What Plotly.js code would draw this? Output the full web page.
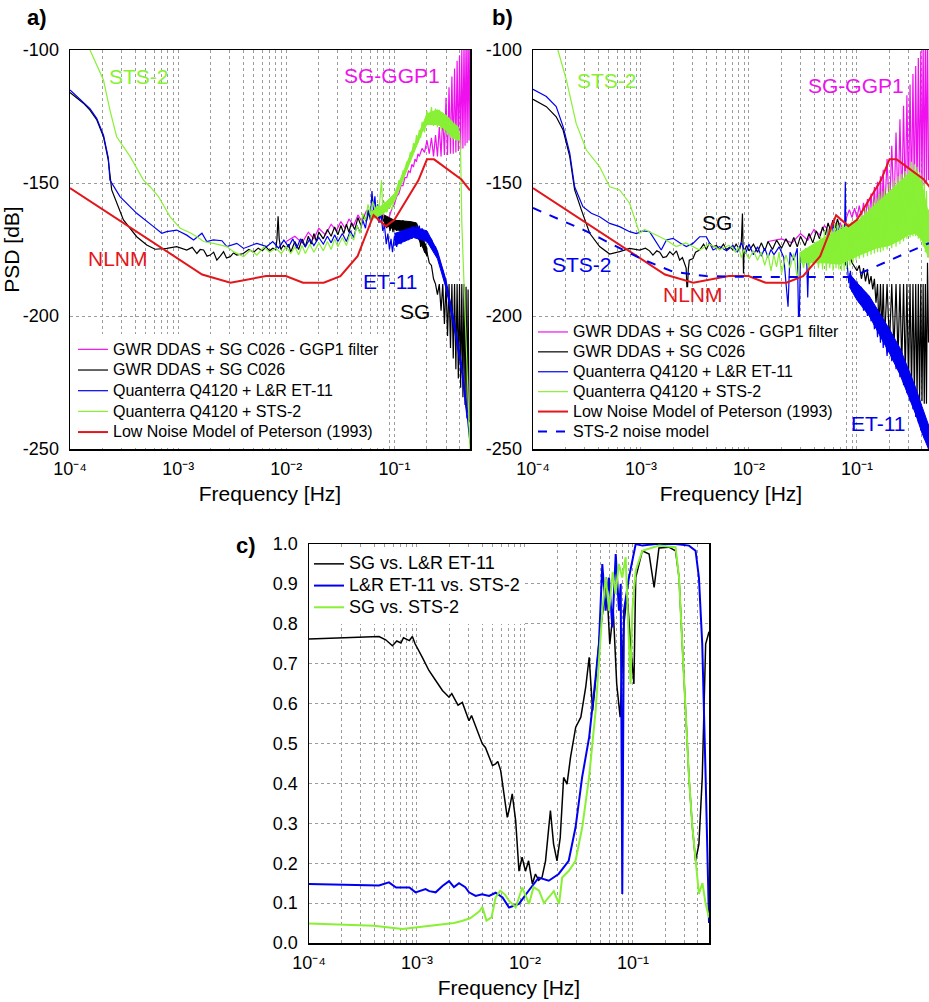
<!DOCTYPE html>
<html><head><meta charset="utf-8">
<script src="https://cdn.plot.ly/plotly-3.0.1.min.js"></script>
<style>html,body{margin:0;padding:0;background:#fff}#chart{width:929px;height:1002px}</style>
</head><body><div id="chart"></div>
<script>
// ---------------- DATA ----------------
// Frequencies in Hz, values in dB (panels a,b) or coherence (panel c)
const nlnm = [[1e-4,-151.9],[1.667e-3,-184.4],[3.049e-3,-187.5],[6.494e-3,-185.0],[9.901e-3,-185.0],[1.429e-2,-187.5],[2.222e-2,-187.5],[3.165e-2,-185.0],[4.566e-2,-177.5],[6.41e-2,-162.1],[8.333e-2,-166.2],[0.1,-163.8],[0.1667,-149.0],[0.2,-141.1],[0.2326,-141.1],[0.4167,-148.7],[0.5,-152.8]];

const aSG = [[1e-4,-116],[1.33e-4,-120],[1.53e-4,-122.6],[1.77e-4,-126.3],[2.04e-4,-132.6],[2.26e-4,-141.4],[2.43e-4,-152.6],[2.7e-4,-157.5],[3.12e-4,-163.9],[4.14e-4,-170.2],[5.13e-4,-173.3],[6.12e-4,-174.9],[7.85e-4,-174.6],[9.7e-4,-173.9],[1.2e-3,-175.2],[1.35e-3,-174.2],[1.49e-3,-176.5],[1.6e-3,-175],[1.72e-3,-175.2],[1.85e-3,-177.5],[1.98e-3,-177.1],[2.13e-3,-176],[2.28e-3,-179],[2.45e-3,-177.5],[2.63e-3,-175.8],[2.8e-3,-178.2],[3.03e-3,-177.7],[3.25e-3,-176.3],[3.49e-3,-177.1],[4e-3,-176.5],[4.5e-3,-175],[5e-3,-176],[5.5e-3,-174.5],[6e-3,-175.5],[6.5e-3,-174],[7e-3,-175.5],[7.5e-3,-174.5],[8e-3,-175],[8.2e-3,-171],[8.4e-3,-162.5],[8.6e-3,-171],[8.9e-3,-175],[9.4e-3,-173.5],[1e-2,-174.5],[1.05e-2,-173],[1.1e-2,-176],[1.2e-2,-172],[1.3e-2,-175],[1.4e-2,-171],[1.5e-2,-174],[1.6e-2,-170],[1.7e-2,-173],[1.8e-2,-169],[1.9e-2,-172],[2e-2,-168.5],[2.2e-2,-171],[2.4e-2,-167.5],[2.6e-2,-170],[2.8e-2,-166.5],[3e-2,-169.5],[3.2e-2,-166],[3.4e-2,-169],[3.6e-2,-165.5],[3.8e-2,-168.5],[4e-2,-165],[4.3e-2,-167.5],[4.6e-2,-163],[4.9e-2,-166],[5.2e-2,-162],[5.5e-2,-164.5],[5.8e-2,-161],[6.1e-2,-163.5],[6.4e-2,-160],[6.7e-2,-163],[7e-2,-160.5],[7.3e-2,-163.5],[7.6e-2,-161],[7.9e-2,-164.5],[8.2e-2,-163],[8.5e-2,-167],[8.8e-2,-164.5],[9.1e-2,-168],[9.4e-2,-165],[9.7e-2,-168.5],[0.1,-164.5],[0.105,-168],[0.11,-164],[0.115,-167.5],[0.12,-164],[0.125,-168],[0.13,-165],[0.135,-169],[0.14,-165],[0.145,-169],[0.15,-165],[0.155,-170],[0.16,-166],[0.165,-171],[0.17,-169],[0.175,-174],[0.18,-172],[0.19,-176],[0.2,-176],[0.21,-180],[0.22,-181],[0.23,-186],[0.24,-188],[0.25,-192],[0.26,-188],[0.27,-198],[0.28,-188],[0.29,-203],[0.3,-188],[0.31,-207.5],[0.32,-188],[0.33,-212],[0.34,-188],[0.35,-216],[0.36,-188],[0.37,-220],[0.38,-188],[0.39,-223.5],[0.4,-188],[0.41,-227],[0.42,-188],[0.43,-230.5],[0.44,-188],[0.45,-233.5],[0.46,-189],[0.47,-236.5],[0.48,-190],[0.49,-239],[0.5,-240]];
const aSGBandUp = [[0.08,-162],[0.1,-164],[0.14,-164.5],[0.16,-165],[0.2,-174.5]];
const aSGBandLo = [[0.08,-165.5],[0.1,-167.5],[0.14,-168.5],[0.16,-169.5],[0.2,-177.5]];

const aET = [[1e-4,-115],[1.33e-4,-119.5],[1.53e-4,-122],[1.77e-4,-125.8],[2.04e-4,-132],[2.26e-4,-140.5],[2.34e-4,-148.9],[2.9e-4,-155.1],[4.14e-4,-161.4],[5.92e-4,-166.4],[7.06e-4,-168.9],[7.85e-4,-168.3],[9.7e-4,-167.7],[1.2e-3,-169.6],[1.39e-3,-171.4],[1.66e-3,-168.9],[1.84e-3,-172],[2.12e-3,-171.4],[2.54e-3,-171.7],[2.82e-3,-173.9],[3.49e-3,-172.7],[4.03e-3,-174.6],[5.35e-3,-172.7],[6.6e-3,-173.9],[7.5e-3,-172],[8.5e-3,-174.5],[9.5e-3,-171.5],[1.05e-2,-174],[1.15e-2,-171],[1.25e-2,-174.5],[1.35e-2,-171],[1.5e-2,-174],[1.65e-2,-171],[1.8e-2,-173.5],[2e-2,-170.5],[2.2e-2,-173],[2.4e-2,-170],[2.6e-2,-172.5],[2.8e-2,-169.5],[3e-2,-172],[3.3e-2,-169],[3.6e-2,-172],[3.9e-2,-168],[4.2e-2,-170.5],[4.5e-2,-166],[4.8e-2,-168.5],[5.1e-2,-164],[5.4e-2,-167],[5.7e-2,-160],[6e-2,-164],[6.2e-2,-153],[6.4e-2,-160],[6.6e-2,-155],[6.8e-2,-162],[7e-2,-158],[7.2e-2,-165],[7.5e-2,-161],[7.8e-2,-168],[8.1e-2,-166],[8.4e-2,-173],[8.7e-2,-169],[9e-2,-175],[9.3e-2,-171],[9.6e-2,-176],[0.1,-170],[0.105,-174],[0.11,-169],[0.115,-173],[0.12,-168],[0.125,-172],[0.13,-167.5],[0.135,-171.5],[0.14,-167],[0.145,-171],[0.15,-166.5],[0.155,-170.5],[0.16,-166],[0.165,-170],[0.17,-166],[0.175,-170.5],[0.18,-167],[0.19,-171],[0.2,-168.5],[0.21,-172],[0.22,-171],[0.23,-174],[0.24,-174],[0.25,-177],[0.26,-179],[0.28,-183],[0.3,-188],[0.33,-196],[0.36,-204],[0.39,-211],[0.42,-220],[0.45,-229],[0.47,-237],[0.49,-245],[0.5,-248]];
const aETBandUp = [[0.1,-169],[0.15,-166.5],[0.2,-168],[0.25,-175.5],[0.3,-186.5],[0.36,-202.5],[0.42,-218.5],[0.47,-235.5]];
const aETBandLo = [[0.1,-173.5],[0.15,-170.5],[0.2,-172],[0.25,-178.5],[0.3,-189.5],[0.36,-205.5],[0.42,-221.5],[0.47,-238.5]];

const aSTS = [[1e-4,-86],[1.53e-4,-100],[2.04e-4,-111.3],[2.34e-4,-122.6],[2.7e-4,-132.6],[3.6e-4,-140.1],[4.78e-4,-148.9],[5.5e-4,-151.4],[6.58e-4,-155.1],[8.43e-4,-162.7],[1.045e-3,-167],[1.29e-3,-168.7],[1.49e-3,-170.2],[1.72e-3,-172],[2.12e-3,-172.7],[2.82e-3,-173.9],[3.25e-3,-175.8],[4.03e-3,-177.7],[4.65e-3,-175.2],[5.35e-3,-177.1],[6.2e-3,-174],[7e-3,-176],[8e-3,-174.5],[9e-3,-176.5],[1e-2,-174],[1.1e-2,-176.5],[1.2e-2,-174],[1.3e-2,-177],[1.4e-2,-173.5],[1.5e-2,-176.5],[1.65e-2,-173],[1.8e-2,-176],[2e-2,-172.5],[2.2e-2,-175.5],[2.4e-2,-172],[2.6e-2,-175],[2.8e-2,-171],[3e-2,-174],[3.3e-2,-170.5],[3.6e-2,-173.5],[3.9e-2,-169],[4.2e-2,-171.5],[4.5e-2,-166],[4.8e-2,-169],[5.1e-2,-161.5],[5.4e-2,-164],[5.7e-2,-158],[6e-2,-162],[6.3e-2,-157],[6.6e-2,-160],[6.9e-2,-158.5],[7.2e-2,-160],[7.6e-2,-149],[7.8e-2,-161],[8.1e-2,-157],[8.5e-2,-161],[9e-2,-158],[9.5e-2,-160],[0.1,-155],[0.105,-153],[0.11,-149],[0.115,-150],[0.12,-145.5],[0.125,-146],[0.13,-142],[0.135,-143],[0.14,-138.5],[0.145,-139.5],[0.15,-135],[0.155,-137],[0.16,-132],[0.165,-135],[0.17,-130],[0.175,-133],[0.18,-127],[0.19,-131],[0.2,-123],[0.21,-128],[0.22,-121.5],[0.23,-128.5],[0.24,-122],[0.25,-129],[0.26,-122.5],[0.27,-130],[0.28,-123.5],[0.29,-131],[0.3,-124.5],[0.31,-132],[0.32,-125.5],[0.33,-133],[0.34,-126.5],[0.35,-133.5],[0.36,-127.5],[0.37,-134],[0.38,-128.5],[0.39,-134],[0.4,-131],[0.41,-140],[0.42,-165],[0.44,-190],[0.46,-213],[0.48,-235],[0.49,-244],[0.5,-250]];
const aSTSBandUp = [[0.06,-161],[0.08,-158],[0.1,-154],[0.12,-146],[0.15,-136],[0.18,-128],[0.2,-124],[0.25,-122.5],[0.3,-124.5],[0.35,-127.5],[0.39,-129]];
const aSTSBandLo = [[0.06,-164],[0.08,-161.5],[0.1,-157],[0.12,-149],[0.15,-139],[0.18,-131],[0.2,-128],[0.25,-128],[0.3,-130],[0.35,-133],[0.39,-134]];

const aGGP = [[1e-2,-172],[1.2e-2,-170],[1.4e-2,-172.5],[1.6e-2,-168.5],[1.8e-2,-171],[2e-2,-167],[2.3e-2,-169.5],[2.6e-2,-165.5],[2.9e-2,-168],[3.2e-2,-164.5],[3.5e-2,-167],[3.8e-2,-163.5],[4.2e-2,-166],[4.6e-2,-162],[5e-2,-164.5],[5.5e-2,-160.5],[6e-2,-162.5],[6.5e-2,-159.5],[7e-2,-161.5],[7.5e-2,-160.5],[8e-2,-163],[8.5e-2,-164],[9e-2,-162.5],[9.5e-2,-159.5],[0.1,-158],[0.105,-155],[0.11,-154],[0.115,-151],[0.12,-151],[0.125,-148],[0.13,-148],[0.135,-145.5],[0.14,-146],[0.145,-143],[0.15,-144],[0.155,-141],[0.16,-142],[0.165,-139],[0.17,-140],[0.18,-137],[0.19,-138.5],[0.2,-134],[0.21,-139],[0.22,-133],[0.23,-140],[0.24,-132],[0.25,-140],[0.26,-129],[0.27,-140],[0.28,-124],[0.29,-139.5],[0.3,-118],[0.31,-139.5],[0.32,-114],[0.33,-139],[0.34,-110],[0.35,-139],[0.36,-107],[0.37,-138.5],[0.38,-104],[0.39,-138],[0.4,-102],[0.41,-137.5],[0.42,-100],[0.43,-137],[0.44,-97],[0.45,-136],[0.46,-95],[0.47,-135],[0.48,-93],[0.49,-134],[0.5,-92]];

const bSG = [[1e-4,-118.5],[1.33e-4,-121.3],[1.64e-4,-125.1],[1.9e-4,-130.1],[2.19e-4,-140.1],[2.43e-4,-152.6],[2.81e-4,-160.2],[3.35e-4,-168.9],[4.14e-4,-173.9],[5.13e-4,-176.7],[6.34e-4,-175.8],[7.85e-4,-174.6],[9.7e-4,-175.2],[1.1e-3,-174.5],[1.2e-3,-175.5],[1.29e-3,-177.1],[1.4e-3,-175.5],[1.49e-3,-176],[1.6e-3,-178],[1.72e-3,-177.7],[1.85e-3,-175.8],[1.98e-3,-177],[2.13e-3,-175.5],[2.28e-3,-179],[2.42e-3,-178],[2.54e-3,-180.2],[2.62e-3,-182],[2.66e-3,-189],[2.7e-3,-189],[2.74e-3,-182.7],[2.8e-3,-179],[3.03e-3,-178.4],[3.2e-3,-176],[3.49e-3,-175.2],[3.8e-3,-173],[4.03e-3,-175],[4.3e-3,-172.5],[4.65e-3,-174],[5e-3,-173.5],[5.35e-3,-175],[5.8e-3,-173],[6.2e-3,-175],[6.7e-3,-174],[7.1e-3,-175.2],[7.6e-3,-173],[8.2e-3,-175],[8.5e-3,-172],[8.7e-3,-161.5],[8.8e-3,-175],[8.9e-3,-184],[9e-3,-176],[9.5e-3,-173.5],[1e-2,-175.5],[1.1e-2,-173],[1.2e-2,-176],[1.3e-2,-172.5],[1.4e-2,-175.5],[1.5e-2,-172],[1.65e-2,-175],[1.8e-2,-171.5],[2e-2,-174.5],[2.2e-2,-171],[2.4e-2,-174],[2.6e-2,-170.5],[2.8e-2,-174],[3e-2,-170],[3.3e-2,-173.5],[3.6e-2,-169],[3.9e-2,-172.5],[4.2e-2,-168],[4.5e-2,-171],[4.8e-2,-166.5],[5.1e-2,-169.5],[5.4e-2,-165],[5.7e-2,-168],[6e-2,-164],[6.3e-2,-167],[6.6e-2,-163.5],[6.9e-2,-166.5],[7.2e-2,-168],[7.5e-2,-172],[7.7e-2,-172],[7.8e-2,-181],[7.9e-2,-172],[8.2e-2,-175],[8.6e-2,-178],[9e-2,-180],[0.1,-183],[0.105,-181],[0.11,-186],[0.115,-182],[0.12,-187],[0.125,-183],[0.13,-188],[0.135,-185],[0.14,-190],[0.145,-186],[0.15,-195],[0.155,-188],[0.16,-205],[0.165,-188],[0.17,-207],[0.175,-188],[0.18,-209],[0.19,-188],[0.2,-211],[0.21,-188],[0.22,-213],[0.23,-188],[0.24,-216],[0.25,-188],[0.26,-219],[0.27,-188],[0.28,-222],[0.29,-188],[0.3,-225],[0.31,-188],[0.32,-228],[0.33,-188],[0.34,-230],[0.35,-188],[0.36,-231],[0.37,-188],[0.38,-232],[0.39,-188],[0.4,-232],[0.41,-188],[0.42,-233],[0.43,-188],[0.44,-233],[0.45,-180],[0.46,-210]];

const bET = [[1e-4,-114.8],[1.33e-4,-117.5],[1.64e-4,-121.3],[1.9e-4,-128.8],[2.19e-4,-138.8],[2.43e-4,-151.4],[2.9e-4,-158.9],[3.47e-4,-161.4],[4.14e-4,-162.7],[5.13e-4,-165.2],[6.34e-4,-166.4],[7.85e-4,-168.3],[9.06e-4,-169],[1.04e-3,-168],[1.2e-3,-168.3],[1.39e-3,-172.1],[1.54e-3,-175.2],[1.72e-3,-171.4],[1.98e-3,-170.8],[2.28e-3,-172.5],[2.63e-3,-173.9],[3.03e-3,-172.7],[3.49e-3,-170.2],[4.03e-3,-170.2],[4.65e-3,-175.2],[5.35e-3,-173.9],[6.2e-3,-175.5],[7.1e-3,-173.5],[7.8e-3,-176],[8.5e-3,-172.5],[9.3e-3,-176.5],[1e-2,-173],[1.1e-2,-177],[1.2e-2,-174],[1.3e-2,-177.5],[1.4e-2,-174.5],[1.5e-2,-178],[1.6e-2,-175],[1.7e-2,-177],[1.9e-2,-174],[2.1e-2,-178],[2.3e-2,-196.5],[2.4e-2,-176],[2.6e-2,-179],[2.8e-2,-174.5],[2.9e-2,-209],[3e-2,-176],[3.2e-2,-179],[3.4e-2,-174.5],[3.5e-2,-193],[3.6e-2,-175],[3.9e-2,-180],[4.2e-2,-174],[4.5e-2,-179],[4.8e-2,-171],[5.1e-2,-175],[5.4e-2,-167.5],[5.7e-2,-171],[6e-2,-165.5],[6.3e-2,-169],[6.6e-2,-166],[6.9e-2,-170],[7.2e-2,-167],[7.5e-2,-172],[7.7e-2,-165],[7.8e-2,-149.5],[7.9e-2,-170],[8.1e-2,-180],[8.4e-2,-187.7],[8.7e-2,-183],[9e-2,-191],[9.3e-2,-186],[9.7e-2,-193],[0.1,-187],[0.105,-195],[0.11,-189],[0.115,-198],[0.12,-191],[0.125,-200],[0.13,-193],[0.135,-202],[0.14,-195],[0.145,-205],[0.15,-197],[0.155,-208],[0.16,-199],[0.165,-210],[0.17,-201],[0.175,-212],[0.18,-203],[0.19,-215],[0.2,-205],[0.21,-217],[0.22,-208],[0.23,-220],[0.24,-211],[0.25,-223],[0.26,-214],[0.27,-226],[0.28,-217],[0.29,-229],[0.3,-220],[0.31,-232],[0.32,-223],[0.33,-235],[0.34,-226],[0.35,-238],[0.36,-229],[0.37,-240],[0.38,-232],[0.39,-243],[0.4,-235],[0.42,-246],[0.44,-240],[0.46,-250]];
const bETBandUp = [[0.085,-184],[0.1,-187.5],[0.13,-192.5],[0.16,-198.5],[0.2,-205],[0.25,-212],[0.3,-220],[0.35,-227],[0.4,-234],[0.46,-241]];
const bETBandLo = [[0.085,-189],[0.1,-194],[0.13,-200],[0.16,-207],[0.2,-214],[0.25,-222],[0.3,-230],[0.35,-237],[0.4,-244],[0.46,-250]];

const bSTS = [[1e-4,-85],[1.7e-4,-100],[2.04e-4,-111.3],[2.51e-4,-127.6],[3.12e-4,-137.6],[4.14e-4,-143.9],[5.13e-4,-151.4],[6.34e-4,-152.6],[7.85e-4,-157.6],[9.7e-4,-168.9],[1.08e-3,-167.5],[1.2e-3,-168.3],[1.49e-3,-170.2],[1.72e-3,-171.5],[2.12e-3,-173.9],[2.6e-3,-172.5],[3.49e-3,-175.2],[4.3e-3,-173],[5.35e-3,-175],[6.5e-3,-173.5],[7.1e-3,-174.5],[7.5e-3,-176],[8e-3,-174],[8.5e-3,-178],[9e-3,-175],[1e-2,-178.5],[1.1e-2,-175.5],[1.2e-2,-179],[1.3e-2,-176],[1.4e-2,-181],[1.5e-2,-176.5],[1.6e-2,-183],[1.7e-2,-177],[1.8e-2,-181.5],[1.9e-2,-176],[2e-2,-184],[2.2e-2,-177],[2.4e-2,-182],[2.6e-2,-176.5],[2.8e-2,-186],[3e-2,-176],[3.2e-2,-182],[3.4e-2,-175],[3.6e-2,-183],[3.8e-2,-174],[4e-2,-181],[4.2e-2,-172],[4.4e-2,-182],[4.6e-2,-170],[4.8e-2,-182.5],[5e-2,-168],[5.2e-2,-183],[5.4e-2,-167],[5.6e-2,-182],[5.8e-2,-166],[6e-2,-183],[6.2e-2,-165],[6.4e-2,-182],[6.6e-2,-165],[6.8e-2,-182.5],[7e-2,-166],[7.2e-2,-183],[7.4e-2,-165.5],[7.6e-2,-183],[7.8e-2,-166],[8e-2,-182],[8.3e-2,-165],[8.6e-2,-181],[8.9e-2,-164.5],[9.2e-2,-180],[9.5e-2,-164],[9.8e-2,-179],[0.1,-163],[0.105,-178.5],[0.11,-162],[0.115,-178],[0.12,-160],[0.125,-177.5],[0.13,-158.5],[0.135,-177],[0.14,-157],[0.145,-176.5],[0.15,-155.5],[0.155,-176],[0.16,-154],[0.165,-176],[0.17,-153],[0.175,-175.5],[0.18,-152],[0.19,-175],[0.2,-150.5],[0.21,-174.5],[0.22,-149],[0.23,-174],[0.24,-147.5],[0.25,-173],[0.26,-146.5],[0.27,-172],[0.28,-145.5],[0.29,-171],[0.3,-144],[0.31,-170.5],[0.32,-142],[0.33,-170],[0.34,-143],[0.35,-170],[0.36,-144],[0.37,-171],[0.38,-146],[0.39,-172],[0.4,-148],[0.41,-174],[0.42,-150],[0.43,-176],[0.44,-153],[0.45,-178],[0.46,-160]];
const bSTSBandUp = [[0.03,-176],[0.05,-170.5],[0.07,-167.5],[0.1,-164.5],[0.15,-158],[0.2,-153],[0.25,-149.5],[0.3,-146.5],[0.35,-145.5],[0.4,-150.5],[0.46,-162]];
const bSTSBandLo = [[0.03,-180],[0.05,-180],[0.07,-180.5],[0.1,-177.5],[0.15,-174.5],[0.2,-173.5],[0.25,-171.5],[0.3,-169.5],[0.35,-169],[0.4,-171.5],[0.46,-178]];

const bGGP = [[1.5e-2,-172],[2e-2,-171],[2.5e-2,-172.5],[3e-2,-169],[3.5e-2,-171.5],[4e-2,-167.5],[4.5e-2,-169.5],[5e-2,-166],[5.5e-2,-168],[6e-2,-164],[6.5e-2,-166],[7e-2,-165],[7.5e-2,-168],[8e-2,-163],[8.5e-2,-160],[9e-2,-163],[9.5e-2,-159.5],[0.1,-163],[0.105,-158.5],[0.11,-163],[0.115,-157.5],[0.12,-163],[0.125,-156],[0.13,-163],[0.135,-154],[0.14,-163],[0.145,-151.5],[0.15,-163],[0.155,-149.5],[0.16,-163],[0.165,-147.5],[0.17,-163],[0.175,-145],[0.18,-162.5],[0.19,-141],[0.2,-162],[0.21,-136],[0.22,-161],[0.23,-131],[0.24,-160],[0.25,-126],[0.26,-159],[0.27,-121],[0.28,-158],[0.29,-117],[0.3,-157],[0.31,-113],[0.32,-156],[0.33,-109],[0.34,-155],[0.35,-106],[0.36,-154],[0.37,-103],[0.38,-153],[0.39,-100.5],[0.4,-152],[0.41,-98],[0.42,-151],[0.43,-95],[0.44,-150],[0.45,-92],[0.46,-149]];

const bNoise = [[1e-4,-159.4],[3e-4,-167.8],[1e-3,-178.5],[2e-3,-183.4],[4e-3,-185],[1e-2,-185.3],[9e-2,-185.3],[0.2,-179],[0.464,-172.6]];

const cSgEt = [[1e-4,0.762],[4.45e-4,0.768],[5.13e-4,0.76],[5.92e-4,0.745],[6.5e-4,0.757],[7.1e-4,0.752],[7.5e-4,0.765],[8.5e-4,0.758],[9.06e-4,0.768],[9.6e-4,0.75],[1.12e-3,0.716],[1.29e-3,0.683],[1.49e-3,0.658],[1.72e-3,0.633],[1.98e-3,0.616],[2.1e-3,0.625],[2.28e-3,0.607],[2.4e-3,0.596],[2.63e-3,0.603],[2.8e-3,0.582],[3.03e-3,0.557],[3.2e-3,0.57],[3.49e-3,0.545],[3.7e-3,0.528],[4.03e-3,0.499],[4.3e-3,0.49],[4.65e-3,0.465],[5e-3,0.445],[5.35e-3,0.449],[5.6e-3,0.455],[5.96e-3,0.432],[6.4e-3,0.365],[6.85e-3,0.315],[7.11e-3,0.332],[7.62e-3,0.374],[8.2e-3,0.306],[8.8e-3,0.18],[9.4e-3,0.215],[1.01e-2,0.18],[1.08e-2,0.206],[1.17e-2,0.148],[1.25e-2,0.173],[1.34e-2,0.157],[1.44e-2,0.165],[1.55e-2,0.206],[1.72e-2,0.332],[1.84e-2,0.248],[1.98e-2,0.206],[2.12e-2,0.264],[2.28e-2,0.415],[2.45e-2,0.398],[2.64e-2,0.465],[2.95e-2,0.541],[3.29e-2,0.566],[3.65e-2,0.641],[3.93e-2,0.716],[4.23e-2,0.582],[4.54e-2,0.666],[4.89e-2,0.766],[5.27e-2,0.833],[5.67e-2,0.916],[6.1e-2,0.749],[6.57e-2,0.833],[7.07e-2,0.649],[7.61e-2,0.566],[8.19e-2,0.791],[8.82e-2,0.875],[9.5e-2,0.749],[0.102,0.649],[0.106,0.916],[0.122,0.983],[0.141,0.975],[0.157,0.891],[0.174,0.99],[0.215,0.992],[0.248,0.983],[0.267,0.916],[0.286,0.749],[0.308,0.582],[0.33,0.415],[0.355,0.29],[0.38,0.206],[0.408,0.248],[0.438,0.415],[0.471,0.749],[0.506,0.78]];

const cEtSts = [[1e-4,0.148],[4.45e-4,0.144],[5.5e-4,0.152],[6.4e-4,0.139],[8.5e-4,0.139],[9.7e-4,0.127],[1.2e-3,0.135],[1.3e-3,0.13],[1.49e-3,0.127],[1.72e-3,0.143],[1.98e-3,0.155],[2.2e-3,0.14],[2.45e-3,0.15],[2.8e-3,0.14],[3.03e-3,0.127],[3.49e-3,0.118],[4e-3,0.122],[4.65e-3,0.118],[5.35e-3,0.126],[6.2e-3,0.114],[7.11e-3,0.089],[8.8e-3,0.098],[1.08e-2,0.131],[1.34e-2,0.164],[1.66e-2,0.156],[2.05e-2,0.173],[2.54e-2,0.206],[2.94e-2,0.29],[3.38e-2,0.415],[3.93e-2,0.516],[4.51e-2,0.666],[4.84e-2,0.75],[5.2e-2,0.95],[5.58e-2,0.833],[6e-2,0.916],[6.44e-2,0.791],[6.92e-2,0.975],[7.42e-2,0.833],[7.7e-2,0.9],[7.96e-2,0.123],[8.25e-2,0.833],[9.18e-2,0.916],[0.106,1.0],[0.122,0.996],[0.162,1.0],[0.248,1.0],[0.33,0.996],[0.38,0.983],[0.408,0.916],[0.438,0.749],[0.471,0.415],[0.506,0.05]];

const cSgSts = [[1e-4,0.049],[4e-4,0.043],[7.31e-4,0.035],[9e-4,0.038],[1.2e-3,0.042],[1.71e-3,0.047],[2.2e-3,0.05],[2.6e-3,0.055],[3.1e-3,0.062],[3.49e-3,0.072],[3.8e-3,0.08],[4.03e-3,0.09],[4.4e-3,0.056],[4.9e-3,0.064],[5.35e-3,0.114],[5.9e-3,0.131],[6.5e-3,0.122],[7.11e-3,0.106],[8.2e-3,0.089],[9.44e-3,0.139],[1.09e-2,0.098],[1.2e-2,0.14],[1.35e-2,0.131],[1.5e-2,0.1],[1.67e-2,0.114],[1.85e-2,0.13],[2.07e-2,0.098],[2.21e-2,0.164],[2.55e-2,0.181],[2.94e-2,0.206],[3.39e-2,0.29],[3.92e-2,0.415],[4.51e-2,0.582],[4.85e-2,0.707],[5.2e-2,0.833],[5.6e-2,0.916],[6e-2,0.833],[6.5e-2,0.93],[6.9e-2,0.875],[7.4e-2,0.95],[7.96e-2,0.916],[8.55e-2,0.967],[9.18e-2,0.749],[9.5e-2,0.649],[9.86e-2,0.833],[0.106,0.933],[0.122,0.983],[0.174,0.996],[0.248,0.992],[0.267,0.916],[0.286,0.749],[0.308,0.582],[0.33,0.415],[0.355,0.29],[0.38,0.206],[0.408,0.123],[0.44,0.15],[0.471,0.098],[0.506,0.064]];

// tick labels
const decades = [1e-4, 1e-3, 1e-2, 1e-1];
const decadeLabels = ['10\u207B\u2074','10\u207B\u00B3','10\u207B\u00B2','10\u207B\u00B9'];
const mantissas = [2,3,4,5,6,7,8,9];
const psdTicks = [-250,-200,-150,-100];
const psdTickText = ['-250','-200','-150','-100'];
const cohTicks = [0,0.1,0.2,0.3,0.4,0.5,0.6,0.7,0.8,0.9,1.0];
const cohTickText = ['0.0','0.1','0.2','0.3','0.4','0.5','0.6','0.7','0.8','0.9','1.0'];

// legend names
const namesA = ['GWR DDAS + SG C026 - GGP1 filter','GWR DDAS + SG C026','Quanterra Q4120 + L&R ET-11','Quanterra Q4120 + STS-2','Low Noise Model of Peterson (1993)','STS-2 noise model'];
const namesC = ['SG vs. L&R ET-11','L&R ET-11 vs. STS-2','SG vs. STS-2'];

// in-plot labels [text, freq Hz, value, colour key]
const labelsA = [['STS-2',4.35e-4,-109.8,'grn'],['SG-GGP1',0.0948,-109.7,'mag'],['NLNM',2.78e-4,-178.2,'red'],['ET-11',0.0918,-187.1,'blu'],['SG',0.156,-198.4,'blk']];
const labelsB = [['STS-2',4.84e-4,-111.3,'grn'],['SG-GGP1',0.0988,-113.2,'mag'],['SG',5.06e-3,-164.9,'blk'],['STS-2',2.85e-4,-180.8,'blu'],['NLNM',3.03e-3,-192.1,'red'],['ET-11',0.158,-240.4,'blu']];

// ---------------- STYLE ----------------
const FONT = '"Liberation Sans", Arial, Helvetica, sans-serif';
const COL = {mag:'#ee11ee', blk:'#000000', blu:'#0000f0', grn:'#88f035', red:'#e3161c'};
const W = 929, H = 1002;

const xMinorVals = [];
decades.forEach(d => mantissas.forEach(m => xMinorVals.push(m * d)));

function line(pairs, name, color, xa, ya, legend, opts) {
  opts = opts || {};
  return {
    type: 'scatter', mode: 'lines',
    name: '<span style="font-size:' + (opts.fs || 16) + 'px">' + name + '</span>',
    x: pairs.map(p => p[0]), y: pairs.map(p => p[1]),
    xaxis: xa, yaxis: ya, legend: legend, legendgroup: legend + name,
    line: {color: color, width: opts.w || 1.2, dash: opts.dash || 'solid'},
    hoverinfo: 'skip'
  };
}
function band(up, lo, color, xa, ya, legend, name) {
  const pts = up.concat(lo.slice().reverse());
  return {
    type: 'scatter', mode: 'lines', fill: 'toself', fillcolor: color, showlegend: false,
    x: pts.map(p => p[0]), y: pts.map(p => p[1]), xaxis: xa, yaxis: ya,
    legend: legend, legendgroup: legend + name,
    line: {color: color, width: 1}, hoverinfo: 'skip'
  };
}

const traces = [
  line(aGGP, namesA[0], COL.mag, 'x', 'y', 'legend'),
  band(aSGBandUp, aSGBandLo, COL.blk, 'x', 'y', 'legend', namesA[1]),
  line(aSG, namesA[1], COL.blk, 'x', 'y', 'legend'),
  band(aETBandUp, aETBandLo, COL.blu, 'x', 'y', 'legend', namesA[2]),
  line(aET, namesA[2], COL.blu, 'x', 'y', 'legend'),
  band(aSTSBandUp, aSTSBandLo, COL.grn, 'x', 'y', 'legend', namesA[3]),
  line(aSTS, namesA[3], COL.grn, 'x', 'y', 'legend'),
  line(nlnm, namesA[4], COL.red, 'x', 'y', 'legend', {w: 2}),
  line(bGGP, namesA[0], COL.mag, 'x2', 'y2', 'legend2'),
  line(bSG, namesA[1], COL.blk, 'x2', 'y2', 'legend2'),
  band(bETBandUp, bETBandLo, COL.blu, 'x2', 'y2', 'legend2', namesA[2]),
  line(bET, namesA[2], COL.blu, 'x2', 'y2', 'legend2'),
  band(bSTSBandUp, bSTSBandLo, COL.grn, 'x2', 'y2', 'legend2', namesA[3]),
  line(bSTS, namesA[3], COL.grn, 'x2', 'y2', 'legend2'),
  line(nlnm, namesA[4], COL.red, 'x2', 'y2', 'legend2', {w: 2}),
  line(bNoise, namesA[5], COL.blu, 'x2', 'y2', 'legend2', {w: 2, dash: 'dash'}),
  line(cSgEt, namesC[0], COL.blk, 'x3', 'y3', 'legend3', {w: 1.5, fs: 18}),
  line(cEtSts, namesC[1], COL.blu, 'x3', 'y3', 'legend3', {w: 2, fs: 18}),
  line(cSgSts, namesC[2], COL.grn, 'x3', 'y3', 'legend3', {w: 2, fs: 18})
];

const tickFont = {family: FONT, size: 18, color: '#000'};
const titleFont = {family: FONT, size: 21, color: '#000'};
const gridStyle = {showgrid: true, gridcolor: '#9c9c9c', griddash: 'dot', gridwidth: 1,
  showline: true, mirror: true, linecolor: '#000', linewidth: 1.5, ticks: '', zeroline: false, automargin: false};

function xAxis(dom, range, anchor) {
  return Object.assign({}, gridStyle, {type: 'log', domain: dom, range: range, anchor: anchor,
    tickmode: 'array', tickvals: decades, ticktext: decadeLabels, tickfont: tickFont, ticklabelstandoff: 3,
    minor: {tickmode: 'array', tickvals: xMinorVals, showgrid: true, gridcolor: '#9c9c9c', griddash: 'dot', gridwidth: 1, ticks: ''},
    title: {text: 'Frequency [Hz]', font: titleFont, standoff: 8}});
}
function yAxis(dom, range, anchor, vals, text, title) {
  const ax = Object.assign({}, gridStyle, {domain: dom, range: range, anchor: anchor,
    tickmode: 'array', tickvals: vals, ticktext: text, tickfont: tickFont, ticklabelstandoff: 6});
  if (title) ax.title = {text: title, font: titleFont, standoff: 3};
  return ax;
}

const yDomAB = [1 - 449/H, 1 - 50/H];
const yDomC = [1 - 943/H, 1 - 544/H];

// legend base font size sets the row pitch; entry text size is set in the names
function legendBox(x, y, yanchor, pitchSize) {
  return {x: x, y: y, xref: 'paper', yref: 'paper', xanchor: 'left', yanchor: yanchor,
    bgcolor: '#ffffff', borderwidth: 0, font: {family: FONT, size: pitchSize, color: '#000'},
    itemwidth: 30, tracegroupgap: 0, traceorder: 'normal'};
}

const annotations = [];
function addLabels(list, xr, yr) {
  list.forEach(l => annotations.push({text: l[0], x: Math.log10(l[1]), y: l[2], xref: xr, yref: yr,
    showarrow: false, font: {family: FONT, size: 21, color: COL[l[3]]}, xanchor: 'center', yanchor: 'middle'}));
}
addLabels(labelsA, 'x', 'y');
addLabels(labelsB, 'x2', 'y2');
[['a)', 37, 17], ['b)', 502, 17], ['c)', 246, 545]].forEach(p => annotations.push({
  text: '<b>' + p[0] + '</b>', x: p[1]/W, y: 1 - p[2]/H, xref: 'paper', yref: 'paper', showarrow: false,
  xanchor: 'center', yanchor: 'middle', font: {family: FONT, size: 22, color: '#000'}}));

const layout = {
  width: W, height: H, margin: {l: 0, r: 0, t: 0, b: 0},
  paper_bgcolor: '#fff', plot_bgcolor: '#fff', font: {family: FONT, color: '#000'},
  showlegend: true,
  xaxis: xAxis([70/W, 470/W], [-4, Math.log10(0.5)], 'y'),
  yaxis: yAxis(yDomAB, [-250, -100], 'x', psdTicks, psdTickText, 'PSD [dB]'),
  xaxis2: xAxis([533/W, 1], [-4, -0.333], 'y2'),
  yaxis2: yAxis(yDomAB, [-250, -100], 'x2', psdTicks, psdTickText),
  xaxis3: xAxis([309/W, 709/W], [-4, -0.296], 'y3'),
  yaxis3: yAxis(yDomC, [0, 1], 'x3', cohTicks, cohTickText),
  legend: legendBox(73/W, 1 - 448/H, 'bottom', 13.6),
  legend2: legendBox(533/W, 1 - 447/H, 'bottom', 13),
  legend3: legendBox(309/W, 1 - 548/H, 'top', 14.4),
  annotations: annotations
};

Plotly.newPlot('chart', traces, layout, {displayModeBar: false, staticPlot: true});
</script>
</body></html>
